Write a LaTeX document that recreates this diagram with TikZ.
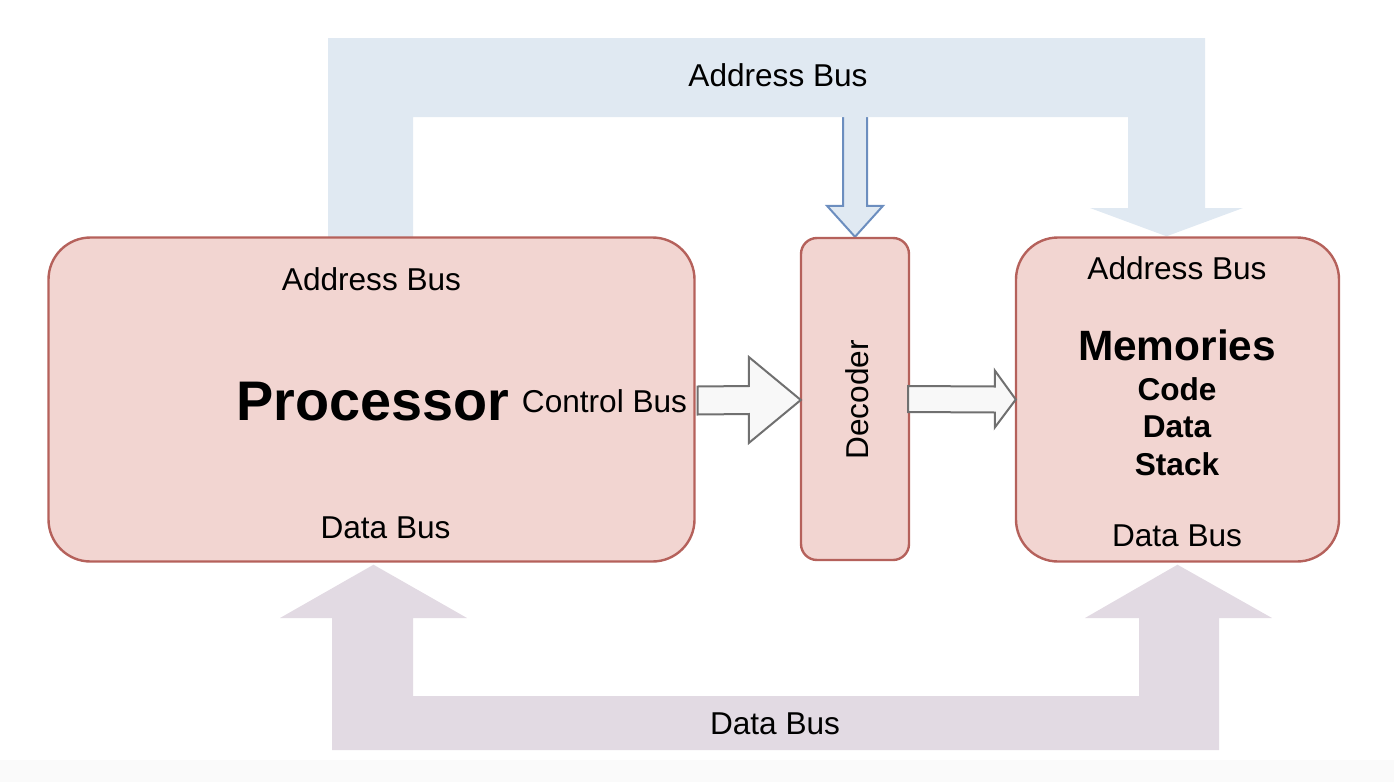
\documentclass[tikz,border=0pt]{standalone}
\usepackage{fontspec}
\setmainfont{Liberation Sans}
\usetikzlibrary{calc,backgrounds}

\definecolor{boxfill}{HTML}{F2D5D1}
\definecolor{boxline}{HTML}{B5615B}
\definecolor{addrfill}{HTML}{E0E9F2}
\definecolor{addrline}{HTML}{6C8EBF}
\definecolor{datafill}{HTML}{E2DAE3}
\definecolor{ctrlfill}{HTML}{F8F8F8}
\definecolor{ctrlline}{HTML}{707070}
\definecolor{stripfill}{HTML}{FAFAFA}

\begin{document}
\begin{tikzpicture}[x=0.5pt, y=-0.5pt,
block/.style={rectangle, rounded corners=21pt, draw=boxline, fill=boxfill, line width=1.2pt, inner sep=0pt},
txt/.style={inner sep=0pt, font=\fontsize{15.8}{19}\selectfont},
bigtxt/.style={inner sep=0pt, font=\fontsize{27.9}{32}\selectfont\bfseries},
midtxt/.style={inner sep=0pt, font=\fontsize{21.2}{25}\selectfont\bfseries},
boldtxt/.style={inner sep=0pt, font=\fontsize{15.8}{19}\selectfont\bfseries},
addrbus/.style={fill=addrfill},
databus/.style={fill=datafill},
addrarrow/.style={fill=addrfill, draw=addrline, line width=1pt, line join=miter},
ctrlarrow/.style={fill=ctrlfill, draw=ctrlline, line width=1pt, line join=miter},
]
\useasboundingbox (0,0) rectangle (1394,782);

% blocks
\node (proc) [block, minimum width=323pt, minimum height=162pt] at (371.5,399.5) {};
\node (dec) [block, rounded corners=8pt, minimum width=54pt, minimum height=161pt] at (855,399) {};
\node (mem) [block, minimum width=161.5pt, minimum height=162pt] at (1177.5,399.5) {};

% texts
\node (paddr) [txt] at (371.5,279) {Address Bus};
\node (pname) [bigtxt] at (373,402) {Processor};
\node (pctrl) [txt] at (604.5,401.5) {Control Bus};
\node (pdata) [txt] at (385.5,528) {Data Bus};
\node (dname) [txt, rotate=90] at (857,400) {Decoder};
\node (maddr) [txt] at (1177,268) {Address Bus};
\node (mname) [midtxt] at (1177,345) {Memories};
\node (mcode) [boldtxt] at (1177,389) {Code};
\node (mdata) [boldtxt] at (1177,427) {Data};
\node (mstack) [boldtxt] at (1177,464) {Stack};
\node (mdbus) [txt] at (1177,536) {Data Bus};

% buses
\begin{scope}[on background layer]
\fill[stripfill] (0,760) rectangle (1394,782);
\coordinate (atip) at ($(mem.north)+(-11,0)$);
\coordinate (ptip) at ($(proc.south)+(2,2)$);
\coordinate (mtip) at ($(mem.south)+(0,2)$);
\filldraw[addrarrow] ($(dec.north)+(-12,-128)$) -- ($(dec.north)+(-12,-31)$) -- ($(dec.north)+(-28,-31)$)
  -- (dec.north) -- ($(dec.north)+(28,-31)$) -- ($(dec.north)+(12,-31)$) -- ($(dec.north)+(12,-128)$) -- cycle;
\fill[addrbus] (328,250) -- (328,38) -- (1205,38) -- (1205,208) -- (1243,208) -- (atip)
  -- (1090,208) -- (1128,208) -- (1128,117) -- (413,117) -- (413,250) -- cycle;
\fill[databus] (332,750) -- (1219,750) -- (1219,618) -- (1272,618) -- (mtip) -- (1085,618)
  -- (1139,618) -- (1139,696) -- (413,696) -- (413,618) -- (467,618) -- (ptip) -- (280,618)
  -- (332,618) -- cycle;
\end{scope}
\node (abus) [txt] at (778,75) {Address Bus};
\node (dbus) [txt] at (775,724) {Data Bus};

% control bus arrows
\filldraw[ctrlarrow] ($(proc.east)+(2,-13)$) -- ($(dec.west)+(-51,-13)$) -- ($(dec.west)+(-51,-42)$)
  -- ($(dec.west)+(1,1)$) -- ($(dec.west)+(-51,44)$) -- ($(dec.west)+(-51,15)$) -- ($(proc.east)+(2,15)$) -- cycle;
\filldraw[ctrlarrow] ($(dec.east)+(-2,-13)$) -- ($(mem.west)+(-20,-13)$) -- ($(mem.west)+(-20,-29)$)
  -- ($(mem.west)+(1,0)$) -- ($(mem.west)+(-20,28)$) -- ($(mem.west)+(-20,13)$) -- ($(dec.east)+(-2,13)$) -- cycle;
\end{tikzpicture}
\end{document}
